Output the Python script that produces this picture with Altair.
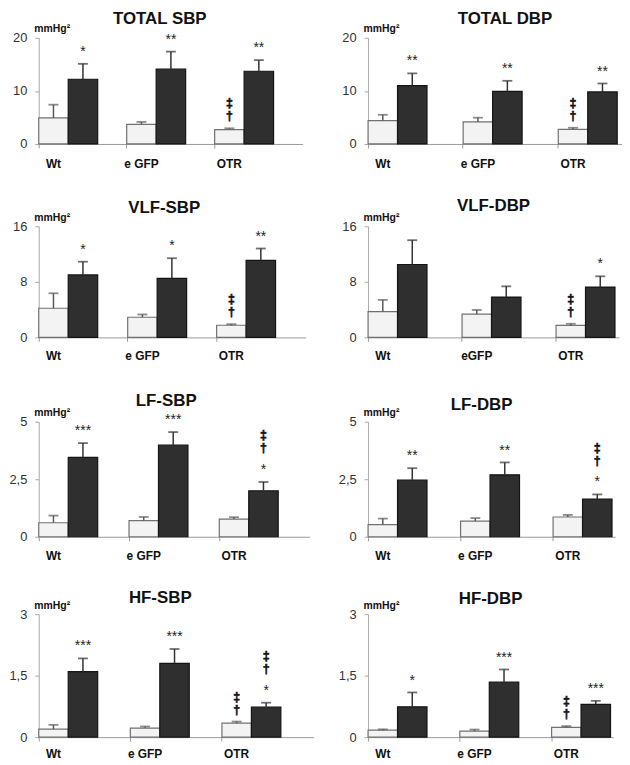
import altair as alt
import pandas as pd

groups = ["Wt", "e GFP", "OTR"]
groups_vlf_dbp = ["Wt", "eGFP", "OTR"]

titles = ["TOTAL SBP", "TOTAL DBP", "VLF-SBP", "VLF-DBP", "LF-SBP", "LF-DBP", "HF-SBP", "HF-DBP"]
y_max = [20, 20, 16, 16, 5, 5, 3, 3]
y_ticks = [[0, 10, 20], [0, 10, 20], [0, 8, 16], [0, 8, 16], [0, 2.5, 5], [0, 2.5, 5], [0, 1.5, 3], [0, 1.5, 3]]

# light (control) and dark (treated) bars: mean and SEM per group
total_sbp_ctrl = [4.9, 3.7, 2.7]
total_sbp_ctrl_sem = [2.5, 0.45, 0.25]
total_sbp_treat = [12.2, 14.1, 13.7]
total_sbp_treat_sem = [2.9, 3.3, 2.1]

total_dbp_ctrl = [4.4, 4.15, 2.75]
total_dbp_ctrl_sem = [1.1, 0.8, 0.3]
total_dbp_treat = [11.0, 9.9, 9.8]
total_dbp_treat_sem = [2.3, 2.0, 1.6]

vlf_sbp_ctrl = [4.2, 2.9, 1.75]
vlf_sbp_ctrl_sem = [2.15, 0.4, 0.15]
vlf_sbp_treat = [9.0, 8.5, 11.1]
vlf_sbp_treat_sem = [1.9, 2.9, 1.7]

vlf_dbp_ctrl = [3.7, 3.35, 1.72]
vlf_dbp_ctrl_sem = [1.7, 0.6, 0.24]
vlf_dbp_treat = [10.5, 5.8, 7.25]
vlf_dbp_treat_sem = [3.5, 1.55, 1.55]

lf_sbp_ctrl = [0.61, 0.70, 0.77]
lf_sbp_ctrl_sem = [0.31, 0.16, 0.08]
lf_sbp_treat = [3.45, 3.98, 2.0]
lf_sbp_treat_sem = [0.62, 0.57, 0.38]

lf_dbp_ctrl = [0.53, 0.68, 0.86]
lf_dbp_ctrl_sem = [0.26, 0.13, 0.09]
lf_dbp_treat = [2.46, 2.69, 1.64]
lf_dbp_treat_sem = [0.52, 0.54, 0.20]

hf_sbp_ctrl = [0.195, 0.22, 0.34]
hf_sbp_ctrl_sem = [0.105, 0.04, 0.04]
hf_sbp_treat = [1.60, 1.80, 0.73]
hf_sbp_treat_sem = [0.32, 0.35, 0.11]

hf_dbp_ctrl = [0.17, 0.145, 0.24]
hf_dbp_ctrl_sem = [0.02, 0.04, 0.03]
hf_dbp_treat = [0.74, 1.34, 0.80]
hf_dbp_treat_sem = [0.35, 0.31, 0.085]

# significance marks
total_sbp_stars = ["*", "**", "**"]
total_dbp_stars = ["**", "**", "**"]
vlf_sbp_stars = ["*", "*", "**"]
vlf_dbp_stars = ["", "", "*"]
lf_sbp_stars = ["***", "***", "*"]
lf_dbp_stars = ["**", "**", "*"]
hf_sbp_stars = ["***", "***", "*"]
hf_dbp_stars = ["*", "***", "***"]

dag = "\u2021\n\u2020"
total_sbp_ctrl_dag = ["", "", dag]
total_dbp_ctrl_dag = ["", "", dag]
vlf_sbp_ctrl_dag = ["", "", dag]
vlf_dbp_ctrl_dag = ["", "", dag]
lf_sbp_ctrl_dag = ["", "", ""]
lf_dbp_ctrl_dag = ["", "", ""]
hf_sbp_ctrl_dag = ["", "", dag]
hf_dbp_ctrl_dag = ["", "", dag]

lf_sbp_treat_dag = ["", "", dag]
lf_dbp_treat_dag = ["", "", dag]
hf_sbp_treat_dag = ["", "", dag]
none_dag = ["", "", ""]

panel_data = [
    (total_sbp_ctrl, total_sbp_ctrl_sem, total_sbp_treat, total_sbp_treat_sem, total_sbp_stars, total_sbp_ctrl_dag, none_dag, groups),
    (total_dbp_ctrl, total_dbp_ctrl_sem, total_dbp_treat, total_dbp_treat_sem, total_dbp_stars, total_dbp_ctrl_dag, none_dag, groups),
    (vlf_sbp_ctrl, vlf_sbp_ctrl_sem, vlf_sbp_treat, vlf_sbp_treat_sem, vlf_sbp_stars, vlf_sbp_ctrl_dag, none_dag, groups),
    (vlf_dbp_ctrl, vlf_dbp_ctrl_sem, vlf_dbp_treat, vlf_dbp_treat_sem, vlf_dbp_stars, vlf_dbp_ctrl_dag, none_dag, groups_vlf_dbp),
    (lf_sbp_ctrl, lf_sbp_ctrl_sem, lf_sbp_treat, lf_sbp_treat_sem, lf_sbp_stars, lf_sbp_ctrl_dag, lf_sbp_treat_dag, groups),
    (lf_dbp_ctrl, lf_dbp_ctrl_sem, lf_dbp_treat, lf_dbp_treat_sem, lf_dbp_stars, lf_dbp_ctrl_dag, lf_dbp_treat_dag, groups),
    (hf_sbp_ctrl, hf_sbp_ctrl_sem, hf_sbp_treat, hf_sbp_treat_sem, hf_sbp_stars, hf_sbp_ctrl_dag, hf_sbp_treat_dag, groups),
    (hf_dbp_ctrl, hf_dbp_ctrl_sem, hf_dbp_treat, hf_dbp_treat_sem, hf_dbp_stars, hf_dbp_ctrl_dag, none_dag, groups),
]

# layout per row: (left width, right width, view height, empty inset above the axis top)
row_layout = [(266, 256, 107, 0), (269, 253, 117, 5), (273, 249, 123, 7), (277, 247, 124, 0)]
# title placement relative to the axis top: (dx from plot centre, baseline above axis top)
title_pos = [(-11, -14), (10, -14), (-8, -13), (0, -15), (-8, -16), (-10, -12), (-16, -11), (0, -10)]
label_drop = [20, 19, 19, 17]

FONT = "Liberation Sans"


def make_panel(i, width, height, inset, left, drop):
    ctrl, ctrl_sem, treat, treat_sem, stars, ctrl_dag, treat_dag, labels = panel_data[i]
    rows = []
    for g in range(3):
        rows.append(dict(grp=g, label=labels[g], s="a", v=ctrl[g], top=ctrl[g] + ctrl_sem[g],
                         star="", dag=ctrl_dag[g]))
        rows.append(dict(grp=g, label=labels[g], s="b", v=treat[g], top=treat[g] + treat_sem[g],
                         star=stars[g], dag=treat_dag[g]))
    df = pd.DataFrame(rows)
    df["has_star"] = df["star"] != ""
    df["has_dag"] = df["dag"] != ""

    xscale = alt.Scale(paddingInner=0.33, paddingOuter=0.165 if left else 0.0, align=0)
    x = alt.X("grp:O", scale=xscale,
              axis=alt.Axis(labels=False, title=None, bandPosition=0, domainColor="#9a9a9a",
                            tickColor="#9a9a9a", tickSize=4, domainWidth=1))
    xo = alt.XOffset("s:N", scale=alt.Scale(domain=["a", "b"], paddingInner=0, paddingOuter=0))
    yscale = alt.Scale(domain=[0, y_max[i]], nice=False, zero=True, range=[height, inset])
    y = alt.Y("v:Q", scale=yscale,
              axis=alt.Axis(values=y_ticks[i], grid=False, domainColor="#a8a8a8", tickColor="#a8a8a8",
                            tickSize=4, labelPadding=8, labelFontSize=13, labelColor="#333333",
                            labelFont=FONT, format=".1~f",
                            labelExpr="replace(datum.label, '.', ',')",
                            title="mmHg\u00b2", titleAngle=0, titleAlign="left", titleBaseline="alphabetic",
                            titleX=-5, titleY=inset - 6, titleFontSize=10.5, titleFont=FONT,
                            titleFontWeight="bold", titleColor="#111111"))

    err_col = alt.condition("datum.s == 'a'", alt.value("#5a5a5a"), alt.value("#333333"))

    base = alt.Chart(df)
    bars = base.mark_bar(strokeWidth=1.2).encode(
        x=x, xOffset=xo, y=y,
        fill=alt.condition("datum.s == 'a'", alt.value("#f3f3f3"), alt.value("#2f2f2f")),
        stroke=alt.condition("datum.s == 'a'", alt.value("#707070"), alt.value("#141414")),
    )
    err = base.mark_rule(strokeWidth=1.5).encode(
        x="grp:O", xOffset="s:N", y="v:Q", y2="top:Q", color=err_col)
    cap = base.mark_tick(size=10, thickness=1.8).encode(
        x="grp:O", xOffset="s:N", y="top:Q", color=err_col)
    star_txt = base.transform_filter("datum.has_star").mark_text(
        baseline="middle", dy=-12, fontSize=14, font=FONT, color="#222222").encode(
        x="grp:O", xOffset="s:N", y="top:Q", text="star:N")
    dag_style = dict(baseline="bottom", fontSize=12.5, fontWeight="bold", lineBreak="\n", lineHeight=13,
                     font=FONT, color="#111111", stroke="#111111", strokeWidth=0.6)
    dag_plain = base.transform_filter("datum.has_dag && !datum.has_star").mark_text(
        dy=-18, **dag_style).encode(x="grp:O", xOffset="s:N", y="top:Q", text="dag:N")
    dag_star = base.transform_filter("datum.has_dag && datum.has_star").mark_text(
        dy=-40, **dag_style).encode(x="grp:O", xOffset="s:N", y="top:Q", text="dag:N")
    xlab = base.transform_filter("datum.s == 'a'").mark_text(
        baseline="middle", fontSize=12, fontWeight="bold", font=FONT, color="#111111").encode(
        x="grp:O", xOffset="s:N", y=alt.value(height + drop), text="label:N")
    tdx, tdy = title_pos[i]
    title = base.transform_filter("datum.grp == 0 && datum.s == 'a'").mark_text(
        baseline="alphabetic", align="center", fontSize=17, fontWeight="bold", font=FONT,
        color="#111111").encode(
        x=alt.value(width / 2 + tdx), y=alt.value(inset + tdy), text=alt.value(titles[i]))

    return alt.layer(bars, err, cap, star_txt, dag_plain, dag_star, xlab, title).properties(
        width=width, height=height)


panels = []
for r in range(4):
    wl, wr, h, inset = row_layout[r]
    panels.append(make_panel(2 * r, wl, h, inset, True, label_drop[r]))
    panels.append(make_panel(2 * r + 1, wr, h, inset, False, label_drop[r]))

chart = alt.concat(*panels, columns=2, spacing={"row": 78, "column": 55}, bounds="flush",
                   align="none").properties(
    padding={"left": 0, "top": -1, "right": 0, "bottom": 0}
).configure(font=FONT, view=alt.ViewConfig(stroke=None))

chart.save("out.html", embed_options={"renderer": "svg", "actions": False})
